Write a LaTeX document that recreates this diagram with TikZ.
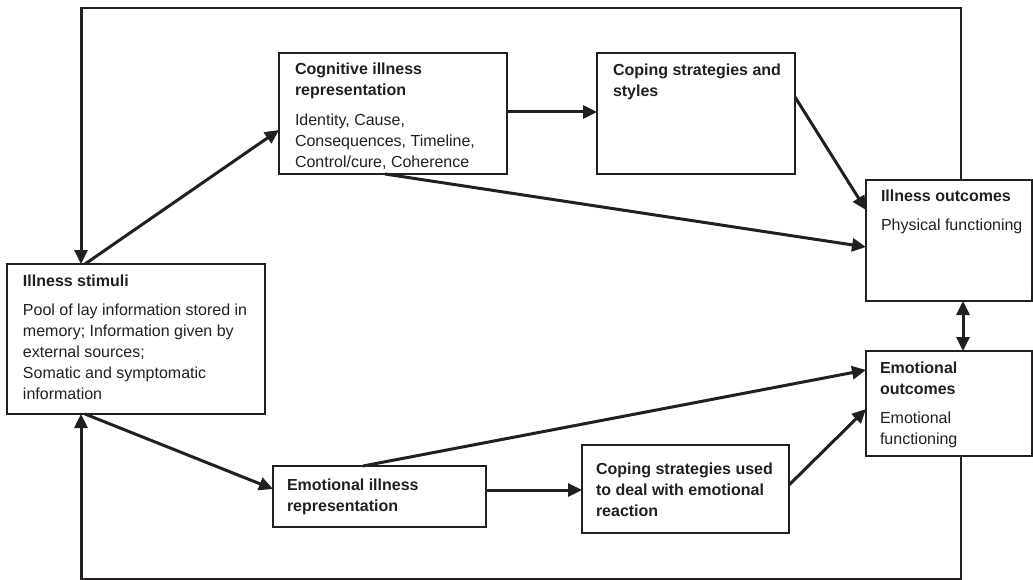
\documentclass[tikz,border=0pt]{standalone}
\usepackage{fontspec}
\setmainfont{Liberation Sans}
\usetikzlibrary{arrows.meta,calc}
\definecolor{ink}{HTML}{231F20}
\begin{document}
\begin{tikzpicture}[x=1pt,y=-1pt,
  box/.style={draw=ink, line width=1.6pt, rectangle, inner sep=0pt, outer sep=0pt, anchor=north west},
  txt/.style={inner sep=0pt, outer sep=0pt, align=left, text=ink, font=\fontsize{16}{21}\selectfont},
  conn/.style={draw=ink, line width=3pt, -{Triangle[length=14pt,width=13pt]}},
  dconn/.style={draw=ink, line width=3pt, {Triangle[length=14pt,width=13pt]}-{Triangle[length=14pt,width=13pt]}},
  loopline/.style={draw=ink, line width=1.4pt}
]
\useasboundingbox (0,0) rectangle (1033,580);

% boxes
\node[box, minimum width=258pt, minimum height=150pt] (stim) at (7,264) {};
\node[box, minimum width=228pt, minimum height=121pt] (cog) at (279,53) {};
\node[box, minimum width=198pt, minimum height=121pt] (cops) at (597,53) {};
\node[box, minimum width=166pt, minimum height=121pt] (illo) at (866,180) {};
\node[box, minimum width=166pt, minimum height=105pt] (emoo) at (866,351) {};
\node[box, minimum width=213pt, minimum height=61pt] (emor) at (273,466) {};
\node[box, minimum width=207pt, minimum height=88pt] (cope) at (582,445) {};

% texts
\node[txt, anchor=north west] (stimt) at (23,275) {\textbf{Illness stimuli}\\[8pt]Pool of lay information stored in\\memory; Information given by\\external sources;\\Somatic and symptomatic\\information};
\node[txt, anchor=north west] (cogt) at (295,63) {\textbf{Cognitive illness}\\\textbf{representation}\\[9pt]Identity, Cause,\\Consequences, Timeline,\\Control/cure, Coherence};
\node[txt, anchor=north west] (copst) at (613,64) {\textbf{Coping strategies and}\\\textbf{styles}};
\node[txt, anchor=north west] (illot) at (881,190) {\textbf{Illness outcomes}\\[8pt]Physical functioning};
\node[txt, anchor=north west] (emoot) at (880,362) {\textbf{Emotional}\\\textbf{outcomes}\\[8pt]Emotional\\functioning};
\node[txt, anchor=west] (emort) at (287,497) {\textbf{Emotional illness}\\\textbf{representation}};
\node[txt, anchor=west] (copet) at (596,490) {\textbf{Coping strategies used}\\\textbf{to deal with emotional}\\\textbf{reaction}};

% loop corners
\coordinate (tl) at (81,8);
\coordinate (tr) at (961,8);
\coordinate (bl) at (81,579);
\coordinate (br) at (961,579);

\draw[loopline] (tr |- illo.north) -- (tr) -- (tl);
\draw[conn] ([yshift=0.7pt]tl) -- (tl |- stim.north);
\draw[loopline] (br |- emoo.south) -- (br) -- (bl);
\draw[conn] ([yshift=-0.7pt]bl) -- (bl |- stim.south);

% connectors
\draw[conn] ([xshift=78pt]stim.north west) -- ([yshift=-77pt]cog.north west);
\draw[conn] ([xshift=78pt]stim.south west) -- ([yshift=-23pt]emor.north west);
\draw[conn] ([yshift=-59pt]cog.north east) -- ([yshift=-59pt]cops.north west);
\draw[conn] ([yshift=-44pt]cops.north east) -- ([yshift=-30pt]illo.north west);
\draw[conn] ([xshift=106pt]cog.south west) -- ([yshift=-67pt]illo.north west);
\draw[conn] ([xshift=90pt]emor.north west) -- ([yshift=-19pt]emoo.north west);
\draw[conn] ([yshift=-24pt]emor.north east) -- ([yshift=-45pt]cope.north west);
\draw[conn] ([yshift=-40pt]cope.north east) -- ([yshift=-58pt]emoo.north west);
\draw[dconn] ([xshift=97pt]illo.south west) -- ([xshift=97pt]emoo.north west);
\end{tikzpicture}
\end{document}
